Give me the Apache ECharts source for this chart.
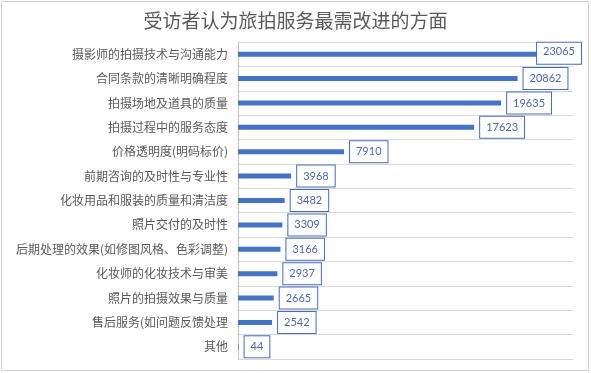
<!DOCTYPE html>
<html><head><meta charset="utf-8">
<script src="https://cdn.jsdelivr.net/npm/echarts@6/dist/echarts.min.js"></script>
<style>html,body{margin:0;padding:0;background:#fff}#c{width:591px;height:373px}</style>
</head><body><div id="c"></div>
<script>
var categories = ["摄影师的拍摄技术与沟通能力","合同条款的清晰明确程度","拍摄场地及道具的质量","拍摄过程中的服务态度","价格透明度(明码标价)","前期咨询的及时性与专业性","化妆用品和服装的质量和清洁度","照片交付的及时性","后期处理的效果(如修图风格、色彩调整)","化妆师的化妆技术与审美","照片的拍摄效果与质量","售后服务(如问题反馈处理","其他"];
var values = [23065,20862,19635,17623,7910,3968,3482,3309,3166,2937,2665,2542,44];
var titleText = "受访者认为旅拍服务最需改进的方面";

var chart = echarts.init(document.getElementById('c'));
chart.setOption({
  animation:false,
  title:{text:titleText,left:'center',top:6,textStyle:{fontFamily:'Noto Sans CJK SC',fontSize:19,fontWeight:'normal',color:'#595959'}},
  graphic:[{type:'rect',shape:{x:1.5,y:1.5,width:587,height:369},style:{fill:null,stroke:'#d0d0d0',lineWidth:1},silent:true}],
  grid:{left:238,right:18,top:42,bottom:14},
  xAxis:{type:'value',min:0,max:25000,show:false,splitLine:{show:false}},
  yAxis:{type:'category',data:categories,inverse:true,
    axisLine:{show:true,lineStyle:{color:'#bfbfbf'}},axisTick:{show:false},
    axisLabel:{margin:10,fontFamily:'Noto Sans CJK SC',fontSize:12,color:'#595959'},
    splitLine:{show:true,lineStyle:{color:'#d9d9d9'}}},
  series:[{type:'bar',data:values,barWidth:5,itemStyle:{color:'#4472C4'},
    label:{show:true,position:'right',distance:6,fontFamily:'Lato',fontSize:11,lineHeight:12,color:'#4f68a6',
      backgroundColor:'#fff',borderColor:'#4a6cb8',borderWidth:1,padding:[3,6,6,6]},
    labelLayout:function(p){ var r=p.labelRect; if(r.x+r.width>583){return {x:583-r.width, y:r.y, align:'left', verticalAlign:'top'};} return {}; }
  }]
});
</script></body></html>
